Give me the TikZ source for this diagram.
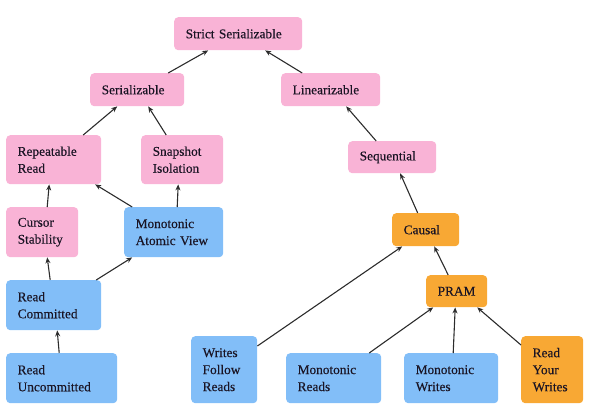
\documentclass[tikz,border=0pt]{standalone}
\usepackage{fontspec}
\setmainfont{Liberation Serif}[FakeBold=0.35]
\usetikzlibrary{arrows.meta}
\definecolor{pinkc}{HTML}{F9B3D6}
\definecolor{bluec}{HTML}{82BEF8}
\definecolor{orangec}{HTML}{F8A834}
\definecolor{txtc}{HTML}{1A1424}
\definecolor{edgec}{HTML}{2C2C2C}
\tikzset{
  box/.style={rounded corners=4pt, anchor=north west, inner xsep=11.5pt, inner ysep=0pt,
    align=left, text=txtc, font=\fontsize{13.3}{17}\selectfont},
  pinkb/.style={box, fill=pinkc},
  blueb/.style={box, fill=bluec},
  orangeb/.style={box, fill=orangec},
  edge/.style={draw=edgec, line width=1.1pt, -{Stealth[length=6pt,width=5pt]}}
}
\begin{document}
\begin{tikzpicture}[x=1pt,y=-1pt]
\useasboundingbox (0,0) rectangle (600,417);
% nodes
\node[pinkb, minimum width=128pt, text width=105pt, minimum height=33pt] (ss) at (174,17) {Strict Serializable};
\node[pinkb, minimum width=94pt, text width=71pt, minimum height=33pt] (ser) at (90,73) {Serializable};
\node[pinkb, minimum width=99pt, text width=76pt, minimum height=33pt] (lin) at (281,73) {Linearizable};
\node[pinkb, minimum width=88pt, text width=65pt, minimum height=32pt] (seq) at (348,141) {Sequential};
\node[pinkb, minimum width=95pt, text width=72pt, minimum height=49pt] (rr) at (6,135) {Repeatable\\Read};
\node[pinkb, minimum width=82pt, text width=59pt, minimum height=49pt] (si) at (141,135) {Snapshot\\Isolation};
\node[pinkb, minimum width=72pt, text width=49pt, minimum height=50pt] (cs) at (6,207) {Cursor\\Stability};
\node[blueb, minimum width=99pt, text width=76pt, minimum height=50pt] (mav) at (124,207) {Monotonic\\Atomic View};
\node[blueb, minimum width=95pt, text width=72pt, minimum height=50pt] (rc) at (6,280) {Read\\Committed};
\node[blueb, minimum width=111pt, text width=88pt, minimum height=50pt] (ru) at (6,353) {Read\\Uncommitted};
\node[blueb, minimum width=66pt, text width=43pt, minimum height=67pt] (wfr) at (191,336) {Writes\\Follow\\Reads};
\node[orangeb, minimum width=67pt, text width=44pt, minimum height=33pt] (causal) at (392,213) {Causal};
\node[orangeb, minimum width=61pt, text width=38pt, minimum height=32pt] (pram) at (426,275) {PRAM};
\node[blueb, minimum width=95pt, text width=72pt, minimum height=50pt] (mr) at (286,353) {Monotonic\\Reads};
\node[blueb, minimum width=94pt, text width=71pt, minimum height=50pt] (mw) at (404,353) {Monotonic\\Writes};
\node[orangeb, minimum width=62pt, text width=39pt, minimum height=67pt] (ryw) at (521,336) {Read\\Your\\Writes};
% edges
\draw[edge] ([xshift=31pt]ser.north) -- ([xshift=-30pt]ss.south);
\draw[edge] ([xshift=-28.5pt]lin.north) -- ([xshift=27pt]ss.south);
\draw[edge] ([xshift=29.5pt]rr.north) -- ([xshift=-20pt]ser.south);
\draw[edge] ([xshift=-16pt]si.north) -- ([xshift=11pt]ser.south);
\draw[edge] ([xshift=-16pt]seq.north) -- ([xshift=15.5pt]lin.south);
\draw[edge] ([xshift=-8pt]causal.north) -- ([xshift=8pt]seq.south);
\draw[edge] ([xshift=5pt]cs.north) -- ([xshift=-4.5pt]rr.south);
\draw[edge] ([xshift=-41.5pt]mav.north) -- ([xshift=41.5pt]rr.south);
\draw[edge] ([xshift=3.5pt]mav.north) -- ([xshift=-4pt]si.south);
\draw[edge] ([xshift=-3.5pt]rc.north) -- ([xshift=5pt]cs.south);
\draw[edge] ([xshift=42.5pt]rc.north) -- ([xshift=-41.5pt]mav.south);
\draw[edge] ([xshift=-2.5pt]ru.north) -- ([xshift=3.5pt]rc.south);
\draw[edge] ([yshift=-10pt]wfr.north east) -- ([xshift=-23.5pt]causal.south);
\draw[edge] ([xshift=-8.5pt]pram.north) -- ([xshift=8.5pt]causal.south);
\draw[edge] ([xshift=35.5pt]mr.north) -- ([xshift=-23.5pt]pram.south);
\draw[edge] ([xshift=2pt]mw.north) -- ([xshift=-1.5pt]pram.south);
\draw[edge] ([yshift=-9pt]ryw.north west) -- ([xshift=20.5pt]pram.south);
\end{tikzpicture}
\end{document}
